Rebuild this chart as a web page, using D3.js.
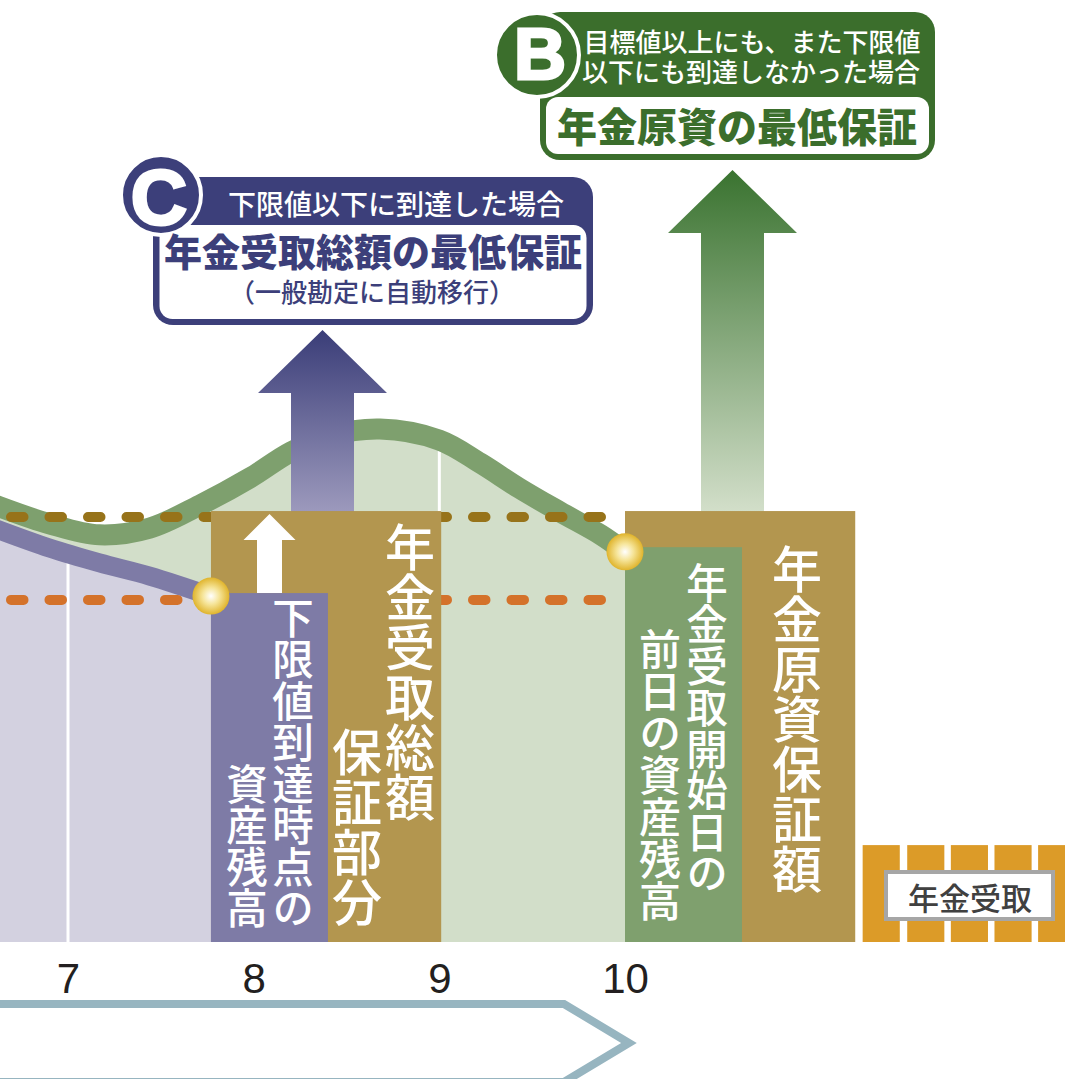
<!DOCTYPE html>
<html><head><meta charset="utf-8">
<script src="https://cdn.jsdelivr.net/npm/d3@7"></script>
<style>
html,body{margin:0;padding:0;background:#fff;overflow:hidden;}
svg{display:block;}
text{font-family:"Noto Sans CJK JP","Noto Sans",sans-serif;}
.vt{writing-mode:vertical-rl;text-orientation:upright;}
</style></head><body>
<svg id="chart" width="1065" height="1079"></svg>
<script>
// ---------- data ----------
const tickYears = [7, 8, 9, 10];
const tickLabels = ["7", "8", "9", "10"];
const gridYears = [7, 9];

// 運用実績による資産残高（上昇シナリオ）
const greenYears  = [6.6, 6.9, 7.17, 7.44, 7.71, 7.98, 8.2, 8.41, 8.68, 9.0, 9.22, 9.43, 9.65, 9.87, 10.0];
const greenValues = [102.9, 98.4, 95.8, 97.4, 102.8, 109.2, 115.3, 119.1, 120.7, 118.1, 112.7, 106.8, 101.2, 95.8, 91.8];
// 下限値到達シナリオ
const purpleYears  = [6.6, 6.9, 7.17, 7.44, 7.77];
const purpleValues = [97.4, 92.7, 89.2, 86.1, 81.4];

const upperLineValue = 100;   // 茶色の破線
const lowerLineValue = 80.5;  // 下限値（オレンジの破線）

const barNames  = ["年金受取総額保証部分", "下限値到達時点の資産残高", "年金原資保証額", "年金受取開始日の前日の資産残高"];
const barStart  = [7.77, 7.77, 10.0, 10.0];
const barEnd    = [9.01, 8.40, 11.24, 10.63];
const barValues = [101.4, 82.1, 101.4, 92.9];
const barColors = ["#b3964f", "#7e7ba6", "#b3964f", "#7fa06e"];

const payoutStarts = [11.28, 11.52, 11.755, 11.99, 12.225];
const payoutWidth = 0.2;
const payoutValue = 22.8;

const dotYears  = [7.77, 10.0];
const dotValues = [81.4, 91.8];

// ---------- scales ----------
const svg = d3.select("#chart");
const x = d3.scaleLinear().domain([7, 10]).range([68, 625]);
const y = d3.scaleLinear().domain([0, 100]).range([942, 517]);

const defs = svg.append("defs");
const rg = defs.append("radialGradient").attr("id", "dotGrad").attr("cx", "50%").attr("cy", "50%").attr("r", "50%");
rg.append("stop").attr("offset", "0%").attr("stop-color", "#ffffff");
rg.append("stop").attr("offset", "45%").attr("stop-color", "#f6e59a");
rg.append("stop").attr("offset", "100%").attr("stop-color", "#e0b42c");

function vgrad(id, top, bottom) {
  const g = defs.append("linearGradient").attr("id", id).attr("x1", 0).attr("y1", 0).attr("x2", 0).attr("y2", 1);
  g.append("stop").attr("offset", "0%").attr("stop-color", top);
  g.append("stop").attr("offset", "100%").attr("stop-color", bottom);
}
vgrad("navyGrad", "#3a3d78", "#9d9abd");
vgrad("greenGrad", "#3a7330", "#d3dfca");

const greenPts = greenYears.map((d, i) => [d, greenValues[i]]);
const purplePts = purpleYears.map((d, i) => [d, purpleValues[i]]);
const curve = d3.curveCatmullRom.alpha(0.5);

const area = d3.area().x(d => x(d[0])).y0(y(0)).y1(d => y(d[1])).curve(curve);
const line = d3.line().x(d => x(d[0])).y(d => y(d[1])).curve(curve);

// clip paths for grid lines
defs.append("clipPath").attr("id", "clipGreen").append("path").attr("d", area(greenPts));
defs.append("clipPath").attr("id", "clipPurple").append("path").attr("d", area(purplePts));

// areas
svg.append("path").attr("d", area(greenPts)).attr("fill", "#d2dec9");
svg.append("path").attr("d", area(purplePts)).attr("fill", "#d3d1e0");

// grid lines
svg.selectAll(".grid").data(gridYears).join("line")
  .attr("x1", d => x(d)).attr("x2", d => x(d))
  .attr("y1", y(0)).attr("y2", y(130))
  .attr("stroke", "#ffffff").attr("stroke-width", 3)
  .attr("clip-path", d => d <= d3.max(purpleYears) ? "url(#clipPurple)" : "url(#clipGreen)");

// curves
svg.append("path").attr("d", line(greenPts)).attr("fill", "none").attr("stroke", "#7ea06e").attr("stroke-width", 21);
svg.append("path").attr("d", line(purplePts)).attr("fill", "none").attr("stroke", "#7e7ba6").attr("stroke-width", 19);

// dashed reference lines
const refLines = [{v: upperLineValue, c: "#97731a"}, {v: lowerLineValue, c: "#d4722a"}];
svg.selectAll(".ref").data(refLines).join("line")
  .attr("x1", 11).attr("x2", x(10))
  .attr("y1", d => y(d.v)).attr("y2", d => y(d.v))
  .attr("stroke", d => d.c).attr("stroke-width", 10)
  .attr("stroke-linecap", "round").attr("stroke-dasharray", "12.5 26");

// arrows helper
function arrowPath(cx, sw, hw, yt, yh, yb) {
  return `M${cx},${yt}L${cx + hw},${yh}L${cx + sw},${yh}L${cx + sw},${yb}L${cx - sw},${yb}L${cx - sw},${yh}L${cx - hw},${yh}Z`;
}
// big arrows (behind bars)
svg.append("path").attr("d", arrowPath(322.5, 31.5, 64.5, 330, 393, y(barValues[0]) + 2)).attr("fill", "url(#navyGrad)");
svg.append("path").attr("d", arrowPath(732.5, 31.5, 64.5, 170, 233, y(barValues[2]) + 2)).attr("fill", "url(#greenGrad)");

// bars
const bars = barNames.map((n, i) => ({n, s: barStart[i], e: barEnd[i], v: barValues[i], c: barColors[i]}));
svg.selectAll(".bar").data(bars).join("rect")
  .attr("x", d => x(d.s)).attr("width", d => x(d.e) - x(d.s))
  .attr("y", d => y(d.v)).attr("height", d => y(0) - y(d.v))
  .attr("fill", d => d.c);

// white arrow inside brown bar
svg.append("path").attr("d", arrowPath(269.5, 12.5, 26, 514, 540, y(barValues[1]))).attr("fill", "#ffffff");

// dots
svg.selectAll(".dot").data(dotYears.map((d, i) => [d, dotValues[i]])).join("circle")
  .attr("cx", d => x(d[0])).attr("cy", d => y(d[1])).attr("r", 18.5)
  .attr("fill", "url(#dotGrad)");

// vertical bar labels
const vLabels = [
  {t: "下限値到達時点の", x: 293, y: 597, s: 41.5},
  {t: "資産残高", x: 247, y: 763, s: 41.5},
  {t: "年金受取総額", x: 410, y: 522, s: 50},
  {t: "保証部分", x: 357, y: 727, s: 50},
  {t: "年金受取開始日の", x: 707, y: 562, s: 41.5},
  {t: "前日の資産残高", x: 660, y: 628, s: 42},
  {t: "年金原資保証額", x: 797, y: 544, s: 50}
];
svg.selectAll(".vl").data(vLabels).join("text")
  .attr("class", "vt")
  .attr("x", d => d.x).attr("y", d => d.y)
  .attr("font-size", d => d.s).attr("fill", "#ffffff").attr("font-weight", 500)
  .text(d => d.t);

// payout blocks
svg.selectAll(".pay").data(payoutStarts).join("rect")
  .attr("x", d => x(d)).attr("width", x(payoutWidth) - x(0))
  .attr("y", y(payoutValue)).attr("height", y(0) - y(payoutValue))
  .attr("fill", "#dc9b28");
svg.append("rect").attr("x", 886).attr("y", 872).attr("width", 167).attr("height", 47)
  .attr("fill", "#ffffff").attr("stroke", "#a6a6a6").attr("stroke-width", 4);
svg.append("text").attr("x", 970).attr("y", 896).attr("text-anchor", "middle").attr("dominant-baseline", "central")
  .attr("font-size", 31).attr("font-weight", 500).attr("fill", "#404040").text("年金受取");

// x axis
const axis = d3.axisBottom(x).tickValues(tickYears).tickFormat((d, i) => tickLabels[i]).tickSize(0).tickPadding(21);
const ax = svg.append("g").attr("transform", `translate(0,${y(0)})`).call(axis);
ax.select(".domain").remove();
ax.selectAll("text").attr("font-size", 42).attr("fill", "#231f20")
  .style("font-family", "'Liberation Sans', Arial, sans-serif");

// time arrow at bottom
svg.append("path").attr("d", "M-10,1004L564,1004L629,1043L564,1082L-10,1082Z")
  .attr("fill", "#ffffff").attr("stroke", "#97b5c0").attr("stroke-width", 8);

// ---------- callout C ----------
const navy = "#3c3f7a";
svg.append("rect").attr("x", 153).attr("y", 177).attr("width", 440).attr("height", 148).attr("rx", 20).attr("fill", navy);
svg.append("rect").attr("x", 159.5).attr("y", 225).attr("width", 427).attr("height", 94).attr("rx", 13).attr("fill", "#ffffff");
svg.append("circle").attr("cx", 161).attr("cy", 195).attr("r", 40).attr("fill", navy).attr("stroke", "#ffffff").attr("stroke-width", 4);
svg.append("text").attr("x", 159).attr("y", 197).attr("text-anchor", "middle").attr("dominant-baseline", "central")
  .style("font-family", "'Liberation Sans', Arial, sans-serif").attr("font-weight", 700).attr("font-size", 78)
  .attr("fill", "#ffffff").attr("stroke", "#ffffff").attr("stroke-width", 3).text("C");
svg.append("text").attr("x", 396).attr("y", 203).attr("text-anchor", "middle").attr("dominant-baseline", "central")
  .attr("font-size", 28).attr("font-weight", 500).attr("fill", "#ffffff").text("下限値以下に到達した場合");
const cMain = svg.append("text").attr("text-anchor", "middle").attr("fill", navy);
cMain.append("tspan").attr("x", 373).attr("y", 266).attr("font-size", 38).attr("font-weight", 900).text("年金受取総額の最低保証");
cMain.append("tspan").attr("x", 372).attr("y", 302).attr("font-size", 26).attr("font-weight", 500).text("（一般勘定に自動移行）");

// ---------- callout B ----------
const dg = "#3b6e2c";
svg.append("rect").attr("x", 540).attr("y", 12).attr("width", 395).attr("height", 148).attr("rx", 20).attr("fill", dg);
svg.append("rect").attr("x", 546).attr("y", 97).attr("width", 383).attr("height", 57).attr("rx", 12).attr("fill", "#ffffff");
svg.append("circle").attr("cx", 537).attr("cy", 55).attr("r", 42).attr("fill", dg).attr("stroke", "#ffffff").attr("stroke-width", 4);
svg.append("text").attr("x", 540).attr("y", 54).attr("text-anchor", "middle").attr("dominant-baseline", "central")
  .style("font-family", "'Liberation Sans', Arial, sans-serif").attr("font-weight", 700).attr("font-size", 72)
  .attr("fill", "#ffffff").attr("stroke", "#ffffff").attr("stroke-width", 3).text("B");
const bHead = svg.append("text").attr("text-anchor", "middle").attr("font-size", 26).attr("font-weight", 500).attr("fill", "#ffffff");
bHead.append("tspan").attr("x", 752).attr("y", 52).text("目標値以上にも、また下限値");
bHead.append("tspan").attr("x", 751).attr("y", 82).text("以下にも到達しなかった場合");
svg.append("text").attr("x", 737).attr("y", 125).attr("text-anchor", "middle").attr("dominant-baseline", "central")
  .attr("font-size", 40).attr("font-weight", 900).attr("fill", dg).text("年金原資の最低保証");
</script>
</body></html>
